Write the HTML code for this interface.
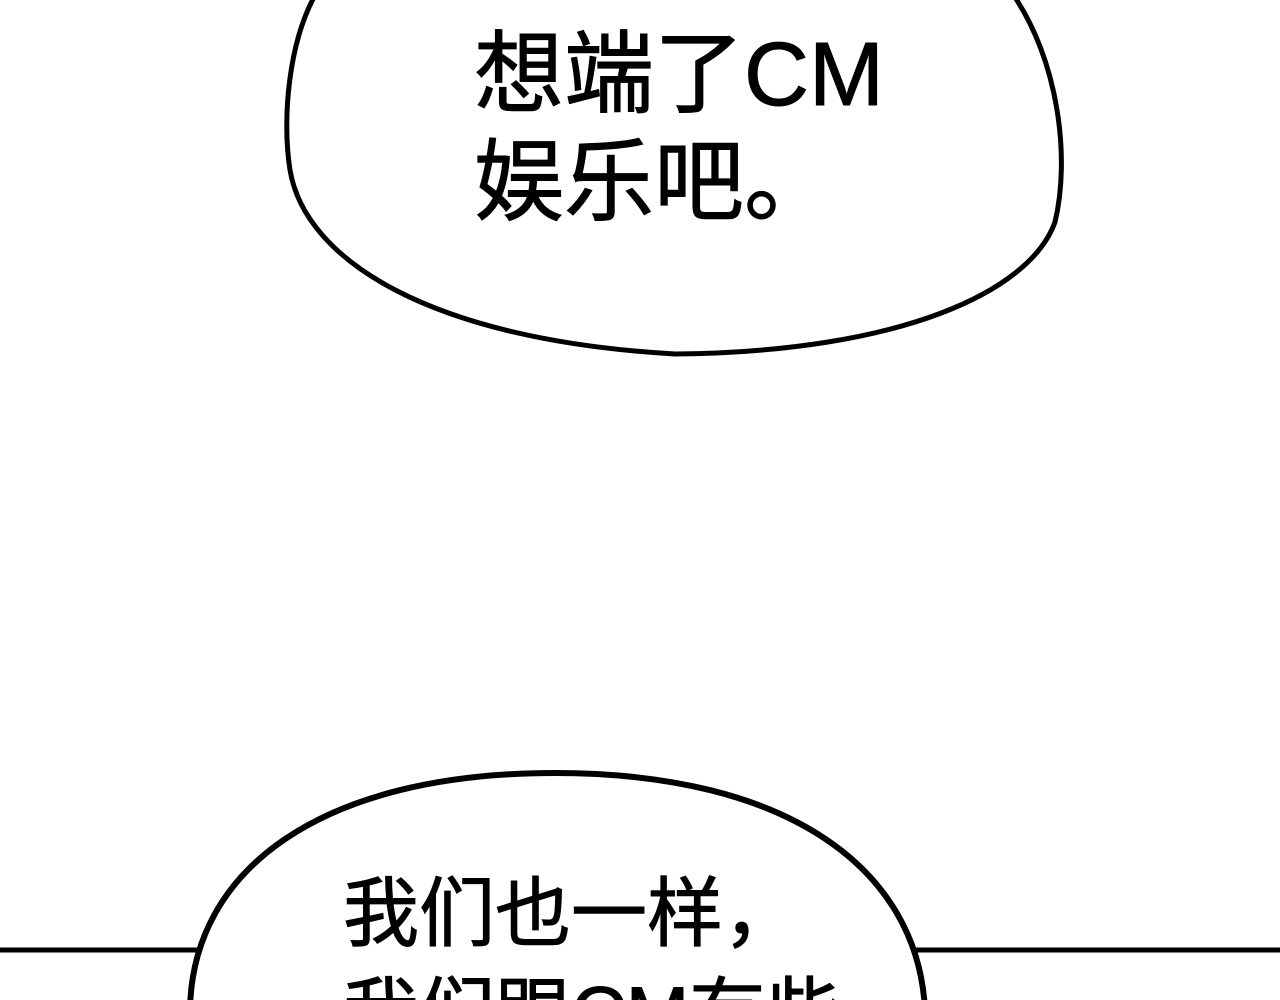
<!DOCTYPE html>
<html><head><meta charset="utf-8"><style>
html,body{margin:0;padding:0;background:#fff;width:1280px;height:1000px;overflow:hidden}
svg{display:block}
text{font-family:"Liberation Sans","Noto Sans CJK SC",sans-serif;fill:#000;stroke:#000;stroke-width:1}
</style></head><body>
<svg width="1280" height="1000" viewBox="0 0 1280 1000">
<rect width="1280" height="1000" fill="#fff"/>
<path d="M 318 -10 C 288 40, 282 120, 290 170 C 305 260, 430 340, 675 354 C 900 352, 1030 292, 1055 222 C 1070 160, 1060 60, 1010 -10" fill="#fff" stroke="#000" stroke-width="5"/>
<text x="474" y="105" font-size="90">想端了CM</text>
<text x="474" y="213" font-size="90">娱乐吧。</text>
<line x1="0" y1="950" x2="1280" y2="950" stroke="#000" stroke-width="5"/>
<path d="M 190 1010 C 192 870, 320 773, 555 773 C 790 773, 918 870, 925 1010 Z" fill="#fff" stroke="#000" stroke-width="6"/>
<text x="343" y="940" font-size="76">我们也一样，</text>
<text x="343" y="1040" font-size="76">我们跟CM有些</text>
</svg>
</body></html>
